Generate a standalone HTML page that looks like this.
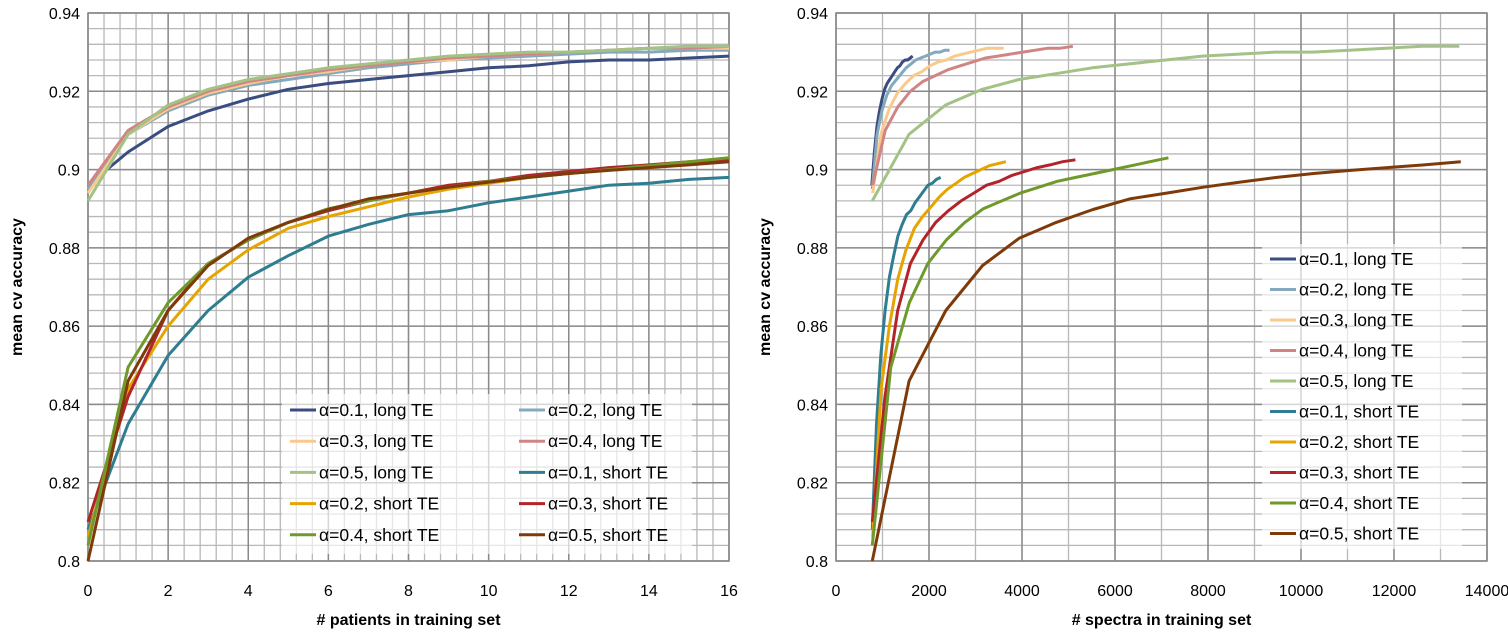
<!DOCTYPE html>
<html><head><meta charset="utf-8"><style>
html,body{margin:0;padding:0;background:#fff;}
svg{display:block;font-family:"Liberation Sans","DejaVu Sans",sans-serif;}
</style></head><body>
<svg id="chart" width="1508" height="637" viewBox="0 0 1508 637"></svg>
<script>
const seriesNames = ["α=0.1, long TE","α=0.2, long TE","α=0.3, long TE","α=0.4, long TE","α=0.5, long TE","α=0.1, short TE","α=0.2, short TE","α=0.3, short TE","α=0.4, short TE","α=0.5, short TE"];
const seriesColors = ["#3b4d80","#84a9bd","#fac98c","#d08584","#a3c285","#2e7d90","#e6a400","#b3242a","#6f9a2b","#7f3a0a"];
const patients = [0,1,2,3,4,5,6,7,8,9,10,11,12,13,14,15,16];
const accLong01 = [0.896,0.9045,0.911,0.915,0.918,0.9205,0.922,0.923,0.924,0.925,0.926,0.9265,0.9275,0.928,0.928,0.9285,0.929];
const accLong02 = [0.895,0.909,0.915,0.919,0.9215,0.923,0.9245,0.926,0.927,0.928,0.9285,0.929,0.9295,0.930,0.930,0.9305,0.9305];
const accLong03 = [0.894,0.909,0.9155,0.9195,0.922,0.924,0.925,0.9265,0.9275,0.928,0.929,0.9295,0.930,0.9305,0.931,0.931,0.931];
const accLong04 = [0.896,0.910,0.916,0.920,0.9225,0.924,0.9255,0.9265,0.9275,0.9285,0.929,0.9295,0.930,0.9305,0.931,0.931,0.9315];
const accLong05 = [0.892,0.909,0.9165,0.9205,0.923,0.9245,0.926,0.927,0.928,0.929,0.9295,0.930,0.930,0.9305,0.931,0.9315,0.9315];
const accShort01 = [0.808,0.835,0.8525,0.864,0.8725,0.878,0.883,0.886,0.8885,0.8895,0.8915,0.893,0.8945,0.896,0.8965,0.8975,0.898];
const accShort02 = [0.806,0.844,0.860,0.872,0.8795,0.885,0.888,0.8905,0.893,0.895,0.8965,0.898,0.899,0.900,0.901,0.9015,0.902];
const accShort03 = [0.810,0.842,0.864,0.876,0.882,0.8865,0.8895,0.892,0.894,0.896,0.897,0.8985,0.8995,0.9005,0.9012,0.902,0.9025];
const accShort04 = [0.804,0.8495,0.866,0.876,0.882,0.8865,0.890,0.892,0.894,0.8955,0.897,0.898,0.899,0.900,0.901,0.902,0.903];
const accShort05 = [0.800,0.846,0.864,0.8755,0.8825,0.8865,0.8898,0.8925,0.894,0.8955,0.8968,0.898,0.899,0.8998,0.9005,0.9012,0.902];
const spectraStart = [770,780,790,790,780,780,790,780,780,780];
const spectraPerPatient = [55,104,176,269,789,92,179,273,398,791];
const yTicks = [0.8,0.82,0.84,0.86,0.88,0.9,0.92,0.94];
const xTicksLeft = [0,2,4,6,8,10,12,14,16];
const xTicksRight = [0,2000,4000,6000,8000,10000,12000,14000];
const allAcc = [accLong01,accLong02,accLong03,accLong04,accLong05,accShort01,accShort02,accShort03,accShort04,accShort05];

const NS="http://www.w3.org/2000/svg";
const svg=document.getElementById('chart');
function mk(tag,attrs,parent){const e=document.createElementNS(NS,tag);for(const k in attrs)e.setAttribute(k,attrs[k]);(parent||svg).appendChild(e);return e;}

function drawPanel(p){
  const g=mk('g',{});
  
  
  const xs=v=>p.x0+(v-p.xmin)/(p.xmax-p.xmin)*(p.x1-p.x0);
  const ys=v=>p.y1-(v-0.8)/(0.14)*(p.y1-p.y0);
  for(let v=p.xmin;v<=p.xmax+1e-9;v+=p.xminor){const X=xs(v);mk('line',{x1:X,x2:X,y1:p.y0,y2:p.y1,stroke:'#b8b8b8','stroke-width':1.3},g);}
  for(let i=0;i<=35;i++){const Y=ys(0.8+i*0.004);mk('line',{x1:p.x0,x2:p.x1,y1:Y,y2:Y,stroke:'#b8b8b8','stroke-width':1.3},g);}
  for(const v of p.xticks){const X=xs(v);mk('line',{x1:X,x2:X,y1:p.y0,y2:p.y1,stroke:'#8a8a8a','stroke-width':1.5},g);}
  for(const v of yTicks){const Y=ys(v);mk('line',{x1:p.x0,x2:p.x1,y1:Y,y2:Y,stroke:'#8a8a8a','stroke-width':1.5},g);}
  mk('rect',{x:p.x0,y:p.y0,width:p.x1-p.x0,height:p.y1-p.y0,fill:'none',stroke:'#8a8a8a','stroke-width':1.5},g);
  for(const v of yTicks){const t=mk('text',{x:p.x0-8,y:ys(v)+6,'text-anchor':'end','font-size':16,fill:'#000'},g);t.textContent=String(v);
    
    }
  for(const v of p.xticks){const t=mk('text',{x:xs(v),y:596,'text-anchor':'middle','font-size':16,fill:'#000'},g);t.textContent=String(v);
    
    }
  const xt=mk('text',{x:(p.x0+p.x1)/2,y:625,'text-anchor':'middle','font-size':16,'font-weight':'bold',fill:'#000'},g);xt.textContent=p.xtitle;
  
  
  const yx=p.x0-66, yy=(p.y0+p.y1)/2;
  const yt=mk('text',{x:yx,y:yy,'text-anchor':'middle','font-size':16,'font-weight':'bold',fill:'#000',transform:`rotate(-90 ${yx} ${yy})`},g);yt.textContent='mean cv accuracy';
  
  
  for(let s=0;s<allAcc.length;s++){
    const pts=patients.map((pt,i)=>xs(p.xval(s,pt)).toFixed(1)+','+ys(allAcc[s][i]).toFixed(1)).join(' ');
    const l=mk('polyline',{points:pts,fill:'none',stroke:seriesColors[s],'stroke-width':3,'stroke-linejoin':'round'},g);
    
    
  }
  const lg=mk('g',{},g);
  
  
  mk('rect',{x:p.lg.x,y:p.lg.y,width:p.lg.w,height:p.lg.h,fill:'#fff','fill-opacity':0.65},lg);
  for(let s=0;s<seriesNames.length;s++){
    const pos=p.lgPos(s);
    const e=mk('g',{},lg);
    
    
    mk('line',{x1:pos[0],x2:pos[0]+26,y1:pos[1],y2:pos[1],stroke:seriesColors[s],'stroke-width':3},e);
    const t=mk('text',{x:pos[0]+29,y:pos[1]+6,'font-size':17.5,fill:'#000'},e);t.textContent=seriesNames[s];
  }
}
drawPanel({name:'patients-chart',x0:88,x1:729,y0:13,y1:561,xmin:0,xmax:16,xminor:0.4,xticks:xTicksLeft,xtitle:'# patients  in training  set',
  xval:(s,pt)=>pt,
  lg:{x:282,y:394,w:410,h:160},
  lgPos:s=>[290+(s%2)*229,410+Math.floor(s/2)*31.2]});
drawPanel({name:'spectra-chart',x0:836,x1:1487,y0:13,y1:561,xmin:0,xmax:14000,xminor:1000,xticks:xTicksRight,xtitle:'# spectra in training  set',
  xval:(s,pt)=>spectraStart[s]+spectraPerPatient[s]*pt,
  lg:{x:1262,y:244,w:200,h:305},
  lgPos:s=>[1270,259+s*30.5]});
</script>
</body></html>
